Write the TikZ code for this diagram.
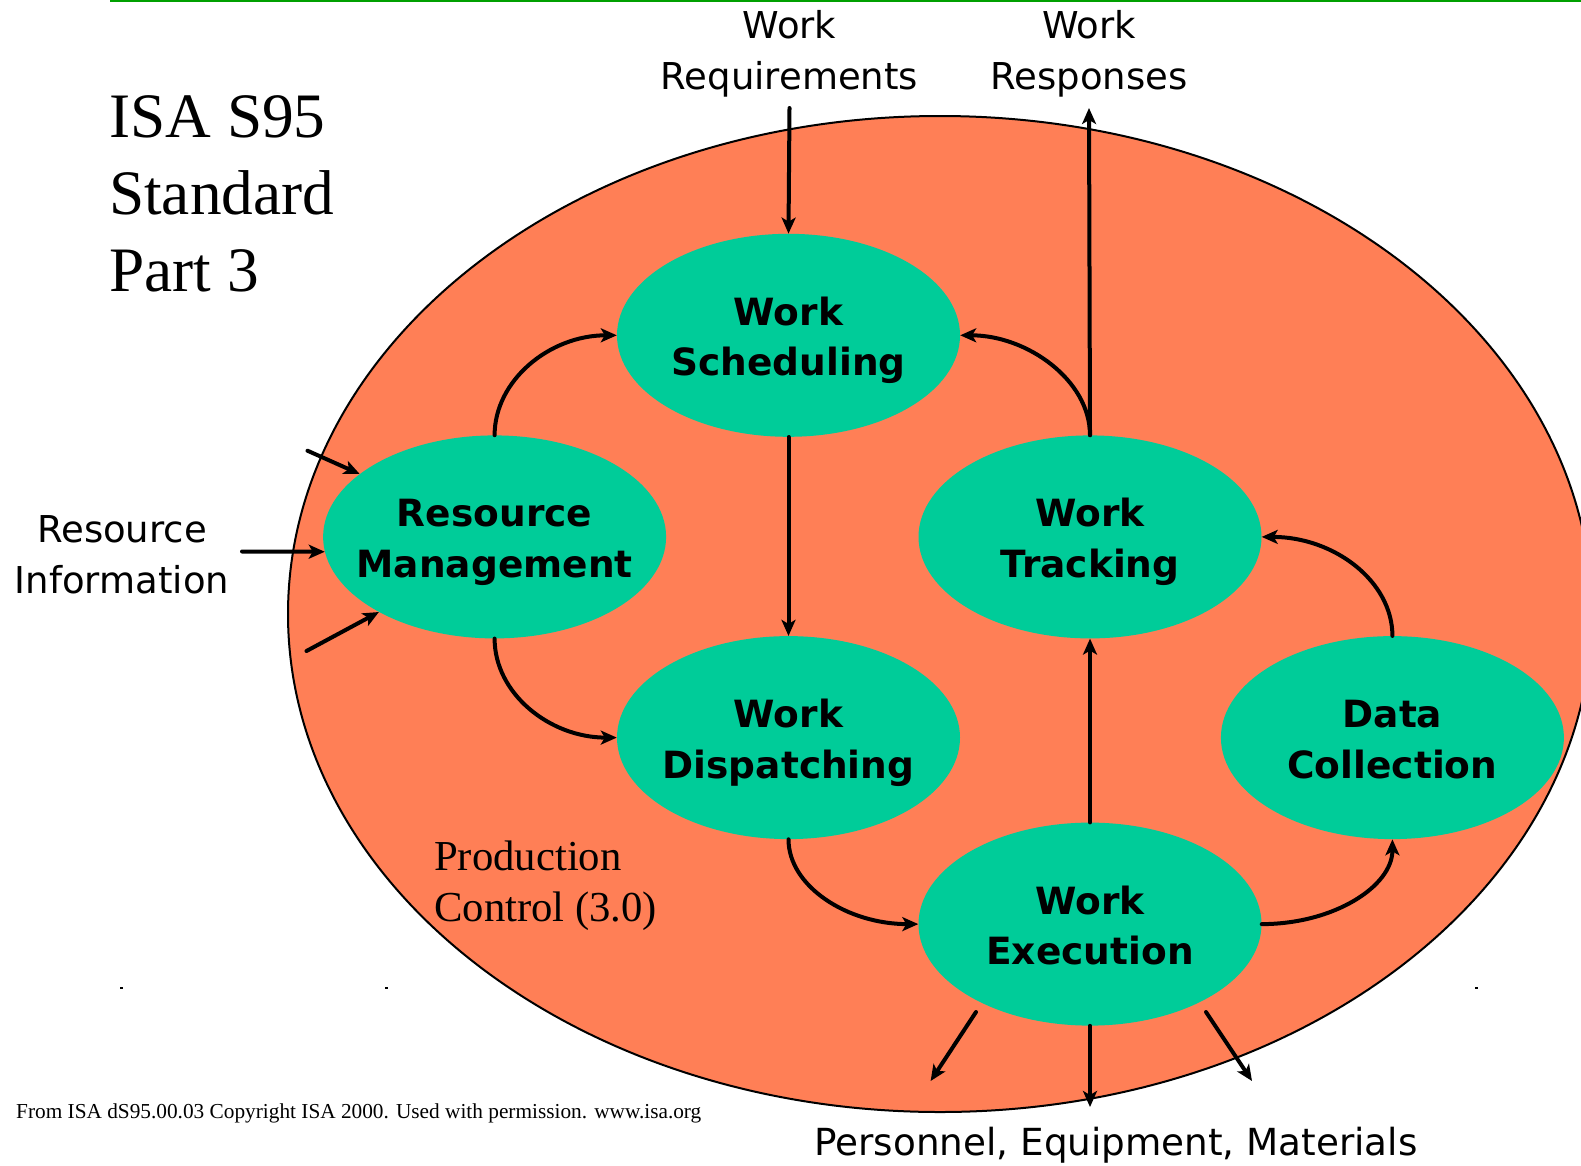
\documentclass[tikz,border=0pt]{standalone}
\usepackage{fontspec}
\setmainfont{Liberation Serif}
\newfontfamily\dvsans{DejaVu Sans}
\usetikzlibrary{shapes.geometric,arrows.meta}
\definecolor{pcorange}{RGB}{255,127,86}
\definecolor{actteal}{RGB}{0,204,153}
\definecolor{rulegreen}{RGB}{0,160,0}
\newcommand\myupstrut{\rule{0pt}{39.3pt}}
\newcommand\mydownstrut{\rule[-8.85pt]{0pt}{0pt}}
\begin{document}
\begin{tikzpicture}[x=1pt,y=1pt,
  activity/.style={ellipse, fill=actteal, minimum width=343pt, minimum height=203pt,
    inner xsep=-40pt, inner ysep=0pt, align=center, font=\dvsans\bfseries\fontsize{37.5}{50.4}\selectfont},
  extlabel/.style={align=center, inner sep=0pt, font=\dvsans\fontsize{37}{51.5}\selectfont},
  flow/.style={line width=4pt, line cap=round, -{Stealth[length=16pt,width=14pt,inset=4pt]}},
  serifnote/.style={align=left, inner sep=0pt}
]
\useasboundingbox (0,0) rectangle (1581,-1165);
% top rule
\draw[rulegreen, line width=2pt] (110,-1) -- (1581,-1);
% production control ellipse
\node[ellipse, draw=black, line width=2pt, fill=pcorange, minimum width=1304pt,
  minimum height=996pt, inner sep=0pt] (pc) at (940,-614) {};
% activities
\node[activity] (ws) at (788.5,-335.3) {\myupstrut Work\\Scheduling\mydownstrut};
\node[activity] (rm) at (494.6,-536.9) {\myupstrut Resource\\Management\mydownstrut};
\node[activity] (wt) at (1090,-536.9) {\myupstrut Work\\Tracking\mydownstrut};
\node[activity] (wd) at (788.5,-737.6) {\myupstrut Work\\Dispatching\mydownstrut};
\node[activity] (dc) at (1392.4,-737.6) {\myupstrut Data\\Collection\mydownstrut};
\node[activity] (we) at (1090,-924.1) {\myupstrut Work\\Execution\mydownstrut};
% texts
\node[serifnote, anchor=north west, font=\fontsize{63.3}{77}\selectfont] (title) at (109,-95) {ISA S95\\Standard\\Part 3};
\node[serifnote, anchor=north west, font=\fontsize{42.7}{50.4}\selectfont] (pclabel) at (434,-841) {Production\\Control (3.0)};
\node[inner sep=0pt, anchor=base west, font=\fontsize{21.3}{26}\selectfont] (footer) at (16,-1118) {From ISA dS95.00.03 Copyright ISA 2000. Used with permission. www.isa.org};
\node[extlabel, anchor=north] (wrlabel) at (789.5,-10) {Work\\Requirements};
\node[extlabel, anchor=north] (wslabel) at (1089,-10) {Work\\Responses};
\node[extlabel, anchor=north] (rilabel) at (122,-515) {Resource\\Information};
\node[extlabel, anchor=base, font=\dvsans\fontsize{37.3}{51.5}\selectfont] (pemlabel) at (1116,-1155) {Personnel, Equipment, Materials};
% tiny marks
\draw[line width=1.2pt] (120,-988) -- (123,-988);
\draw[line width=1.2pt] (385,-988) -- (388,-988);
\draw[line width=1.2pt] (1475,-988) -- (1478,-988);
% connectors
\coordinate (wrq) at (789.5,-108);
\coordinate (wrs) at (1089,-108);
\draw[flow] (wrq) -- (ws.north);
\draw[flow] (wt.north) -- (wrs);
\draw[flow] (rm.north) .. controls +(0,55) and +(-67,0) .. (ws.west);
\draw[flow] (wt.north) .. controls +(0,55) and +(67,0) .. (ws.east);
\draw[flow] (ws.south) -- (wd.north);
\draw[flow] (rm.south) .. controls +(0,-55) and +(-67,0) .. (wd.west);
\draw[flow] (wd.south) .. controls +(0,-47) and +(-71,0) .. (we.west);
\draw[flow] (we.east) .. controls +(72,0) and +(0,-47) .. (dc.south);
\draw[flow] (dc.north) .. controls +(0,55) and +(72,0) .. (wt.east);
\draw[flow] (we.north) -- (wt.south);
% resource information inputs
\coordinate (ri1) at (307.5,-450.7);
\coordinate (ri2) at (242,-551.5);
\coordinate (ri3) at (306.5,-651);
\draw[flow] (ri1) -- (rm.155);
\draw[flow] (ri2) -- (rm.185);
\draw[flow] (ri3) -- (rm.213);
% outputs
\coordinate (o1s) at (976,-1012);
\coordinate (o1e) at (930.6,-1081);
\coordinate (o2e) at (1090,-1107);
\coordinate (o3s) at (1206,-1012);
\coordinate (o3e) at (1252,-1081);
\draw[flow] (o1s) -- (o1e);
\draw[flow] (we.south) -- (o2e);
\draw[flow] (o3s) -- (o3e);
\end{tikzpicture}
\end{document}
